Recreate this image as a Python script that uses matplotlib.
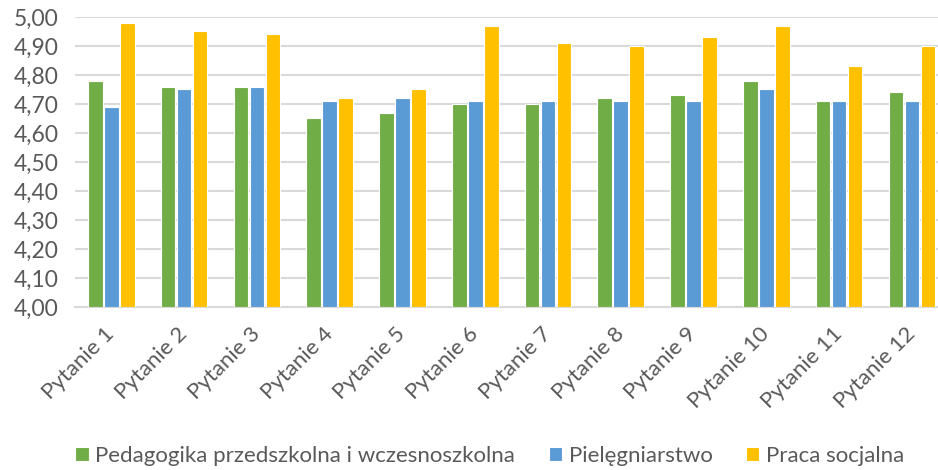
import numpy as np
import matplotlib
matplotlib.use("Agg")
import matplotlib.pyplot as plt

plt.rcParams['font.family'] = ['Lato', 'DejaVu Sans']

categories = ["Pytanie %d" % i for i in range(1, 13)]
series_names = ["Pedagogika przedszkolna i wczesnoszkolna", "Pielęgniarstwo", "Praca socjalna"]
pedagogika = [4.78, 4.76, 4.76, 4.65, 4.67, 4.70, 4.70, 4.72, 4.73, 4.78, 4.71, 4.74]
pielegniarstwo = [4.69, 4.75, 4.76, 4.71, 4.72, 4.71, 4.71, 4.71, 4.71, 4.75, 4.71, 4.71]
praca_socjalna = [4.98, 4.95, 4.94, 4.72, 4.75, 4.97, 4.91, 4.90, 4.93, 4.97, 4.83, 4.90]
colors = ["#70AD47", "#5B9BD5", "#FFC000"]

fig = plt.figure(figsize=(9.38, 4.70), dpi=100)
ax = fig.add_axes([0.080, 0.347, 0.92, 0.617])

x = np.arange(len(categories))
w = 0.2
off = 0.22
for i, (vals, name) in enumerate(zip([pedagogika, pielegniarstwo, praca_socjalna], series_names)):
    ax.bar(x + (i - 1) * off, np.array(vals) - 4.0, bottom=4.0, width=w,
           color=colors[i], edgecolor="white", linewidth=0.8, label=name, zorder=3)

ax.set_ylim(4.0, 5.0)
ax.set_xlim(-0.5, 11.36)
yt = np.arange(4.0, 5.001, 0.1)
ax.set_yticks(yt)
ax.set_yticklabels([("%.2f" % v).replace(".", ",") for v in yt], fontsize=16.5, color="#595959")
ax.set_xticks(x)
ax.set_xticklabels(categories, rotation=45, ha="right", va="center",
                   rotation_mode="anchor", fontsize=16, color="#595959")
ax.tick_params(length=0)
ax.tick_params(axis="y", pad=12)
ax.tick_params(axis="x", pad=17)
ax.grid(axis="y", color="#D9D9D9", linewidth=1.5, zorder=0)
for s in ["left", "right", "top"]:
    ax.spines[s].set_visible(False)
ax.spines["bottom"].set_color("#D9D9D9")
ax.spines["bottom"].set_linewidth(1.5)

fig.legend(loc="center", bbox_to_anchor=(0.522, 0.030), ncol=3, frameon=False,
           fontsize=16, handlelength=0.6, handleheight=0.6, handletextpad=0.3,
           columnspacing=1.5, labelcolor="#595959")

fig.savefig("out.png", dpi=100)
